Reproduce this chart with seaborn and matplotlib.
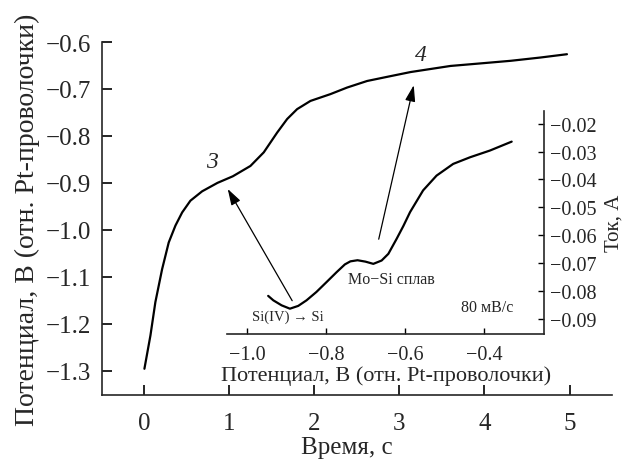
import matplotlib
matplotlib.use("Agg")
import matplotlib.pyplot as plt
import seaborn as sns
import pandas as pd
import numpy as np

# main curve: potential vs time
time_s = [0.0, 0.071, 0.129, 0.208, 0.286, 0.365, 0.444, 0.541, 0.679, 0.86,
          1.04, 1.247, 1.404, 1.561, 1.679, 1.796, 1.953, 2.188, 2.384, 2.62,
          2.86, 3.13, 3.60, 3.99, 4.31, 4.66, 4.97]
potential_v = [-1.296, -1.225, -1.154, -1.084, -1.027, -0.991, -0.963, -0.938,
               -0.918, -0.900, -0.886, -0.864, -0.835, -0.793, -0.764, -0.743,
               -0.7255, -0.711, -0.697, -0.683, -0.674, -0.664, -0.651, -0.645,
               -0.640, -0.633, -0.626]

# inset: voltammogram (current vs potential)
cv_potential = [-0.946, -0.933, -0.912, -0.891, -0.870, -0.849, -0.824, -0.798,
                -0.773, -0.752, -0.738, -0.720, -0.700, -0.680, -0.659, -0.642,
                -0.621, -0.604, -0.587, -0.554, -0.520, -0.478, -0.435, -0.385,
                -0.330]
cv_current = [-0.0818, -0.0834, -0.0852, -0.0864, -0.0854, -0.0834, -0.0804,
              -0.0768, -0.0733, -0.0705, -0.0694, -0.0690, -0.0695, -0.0703,
              -0.0691, -0.0667, -0.0613, -0.0567, -0.0517, -0.0439, -0.0386,
              -0.0344, -0.0320, -0.0296, -0.0264]

main_xticks = [0, 1, 2, 3, 4, 5]
main_yticks = [-1.3, -1.2, -1.1, -1.0, -0.9, -0.8, -0.7, -0.6]
inset_xticks = [-1.0, -0.8, -0.6, -0.4]
inset_yticks = [-0.09, -0.08, -0.07, -0.06, -0.05, -0.04, -0.03, -0.02]

def minus(s):
    return s.replace('-', '\u2212')

sns.set_style("ticks")
plt.rcParams['font.family'] = ['Liberation Serif', 'DejaVu Serif']
plt.rcParams['axes.linewidth'] = 1.2

fig = plt.figure(figsize=(6.29, 4.60), dpi=100)
ax = fig.add_axes([0.162, 0.139, 0.811, 0.7675])

df_main = pd.DataFrame({'t': time_s, 'E': potential_v})
sns.lineplot(data=df_main, x='t', y='E', ax=ax, color='black', lw=1.6)
ax.set_xlim(-0.5, 5.5)
ax.set_ylim(-1.352, -0.6)
ax.set_xticks(main_xticks)
ax.set_yticks(main_yticks)
ax.set_xticklabels([str(v) for v in main_xticks])
ax.set_yticklabels([minus(f'{v:.1f}') for v in main_yticks])
ax.tick_params(direction='in', length=7, width=1.2, labelsize=18, color='black')
ax.tick_params(axis='x', pad=12)
ax.tick_params(axis='y', pad=8)
sns.despine(ax=ax)
ax.set_xlabel('Время, с', fontsize=18)
ax.set_ylabel('Потенциал, В (отн. Pt-проволочки)', fontsize=20)
ax.xaxis.set_label_coords(0.48, -0.115)
ax.yaxis.set_label_coords(-0.122, 0.5)

ax.text(0.8, -0.854, '3', fontsize=17, style='italic', ha='center', va='center')
ax.text(3.25, -0.626, '4', fontsize=17, style='italic', ha='center', va='center')

# inset
axi = fig.add_axes([0.361, 0.2717, 0.504, 0.4848])
axi.patch.set_alpha(0)
df_cv = pd.DataFrame({'E': cv_potential, 'I': cv_current})
sns.lineplot(data=df_cv, x='E', y='I', ax=axi, color='black', lw=1.6)
axi.set_xlim(-1.05, -0.248)
axi.set_ylim(-0.0955, -0.0154)
axi.set_xticks(inset_xticks)
axi.set_yticks(inset_yticks)
axi.set_xticklabels([minus(f'{v:.1f}') for v in inset_xticks])
axi.set_yticklabels([minus(f'{v:.2f}') for v in inset_yticks])
axi.yaxis.tick_right()
axi.yaxis.set_label_position('right')
for s in ['top', 'left']:
    axi.spines[s].set_visible(False)
axi.tick_params(direction='in', length=4, width=1.0, labelsize=14.5, color='black')
axi.tick_params(axis='x', pad=8)
axi.tick_params(axis='y', pad=4)
axi.set_xlabel('Потенциал, В (отн. Pt-проволочки)', fontsize=16, labelpad=1)
axi.set_ylabel('Ток, А', fontsize=15, labelpad=6)

axi.text(-0.896, -0.0893, 'Si(IV) \u2192 Si', fontsize=10.5, ha='center', va='center')
axi.text(-0.635, -0.0756, 'Mo\u2212Si сплав', fontsize=11.5, ha='center', va='center')
axi.text(-0.392, -0.0857, '80 мВ/с', fontsize=11.5, ha='center', va='center')

# arrows from inset features to curve points
arrow_kw = dict(arrowstyle='-|>,head_length=0.7,head_width=0.22', color='black',
                lw=0.9, mutation_scale=14, shrinkA=0, shrinkB=0)
ax.annotate('', xy=(0.98, -0.913), xytext=(1.738, -1.151), arrowprops=arrow_kw)
ax.annotate('', xy=(3.168, -0.692), xytext=(2.756, -1.020), arrowprops=arrow_kw)

fig.savefig('out.png', dpi=100)
